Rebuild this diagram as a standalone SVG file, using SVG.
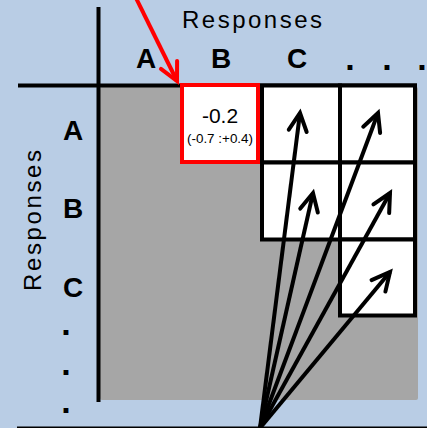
<svg xmlns="http://www.w3.org/2000/svg" width="427" height="428" viewBox="0 0 427 428">
<style>
.lbl{font-family:"Liberation Sans",Arial,sans-serif;font-weight:bold;font-size:28px;fill:#000;text-anchor:middle}
.ttl{font-family:"Liberation Sans",Arial,sans-serif;font-size:24px;fill:#000}
.dot{font-family:"Liberation Sans",Arial,sans-serif;font-weight:bold;font-size:34px;fill:#000;text-anchor:middle}
.cell{fill:#fff;stroke:#000;stroke-width:4}
.arr{stroke:#000;stroke-width:4;fill:none;marker-end:url(#ah)}
.axis{stroke:#000;stroke-width:4}
</style>
<defs>
<marker id="ah" markerUnits="userSpaceOnUse" markerWidth="30" markerHeight="30" viewBox="-22 -15 30 30" refX="0" refY="0" orient="auto">
<path d="M-18,-9 L0,0 L-18,9" fill="none" stroke="#000" stroke-width="4" stroke-linecap="round" stroke-linejoin="miter"/>
</marker>
<marker id="ahr" markerUnits="userSpaceOnUse" markerWidth="30" markerHeight="30" viewBox="-22 -15 30 30" refX="0" refY="0" orient="auto">
<path d="M-18,-9 L0,0 L-18,9" fill="none" stroke="#ff0000" stroke-width="4" stroke-linecap="round"/>
</marker>
</defs>
<rect x="0" y="0" width="427" height="428" fill="#b9cde5"/>
<g id="grid-area">
<rect x="100" y="87" width="318" height="313" rx="2" fill="#a6a6a6"/>
<line class="axis" x1="98.5" y1="7" x2="98.5" y2="402"/>
<line class="axis" x1="18" y1="85.5" x2="417" y2="85.5"/>
<line x1="17" y1="428" x2="427" y2="428" stroke="#000" stroke-width="3"/>
</g>
<g id="titles">
<text class="ttl" x="182" y="28" textLength="140" lengthAdjust="spacing">Responses</text>
<text class="ttl" transform="translate(41,291) rotate(-90)" x="0" y="0" textLength="141" lengthAdjust="spacing">Responses</text>
</g>
<g id="col-labels">
<text class="lbl" x="146" y="68">A</text>
<text class="lbl" x="221" y="68">B</text>
<text class="lbl" x="297" y="68">C</text>
<text class="dot" x="350 387 422" y="70">...</text>
</g>
<g id="row-labels">
<text class="lbl" x="73" y="140">A</text>
<text class="lbl" x="73" y="218">B</text>
<text class="lbl" x="73" y="297">C</text>
<text class="dot" x="66" y="335">.</text>
<text class="dot" x="66" y="375">.</text>
<text class="dot" x="66" y="413">.</text>
</g>
<g id="cells">
<rect class="cell" x="262" y="85.5" width="78" height="77"/>
<rect class="cell" x="340" y="85.5" width="75" height="77"/>
<rect class="cell" x="262" y="162.5" width="78" height="77"/>
<rect class="cell" x="340" y="162.5" width="75" height="77"/>
<rect class="cell" x="340" y="239.5" width="75" height="76"/>
</g>
<g id="cell-AB">
<rect x="182" y="85" width="76" height="77" fill="#fff" stroke="#ff0000" stroke-width="4"/>
<text x="220" y="123" font-family="'Liberation Sans',Arial,sans-serif" font-size="21" text-anchor="middle">-0.2</text>
<text x="220" y="143" font-family="'Liberation Sans',Arial,sans-serif" font-size="12" text-anchor="middle" textLength="66" lengthAdjust="spacingAndGlyphs">(-0.7 :+0.4)</text>
</g>
<g id="connectors">
<line class="arr" x1="260" y1="428" x2="300" y2="113"/>
<line class="arr" x1="260" y1="428" x2="378" y2="113"/>
<line class="arr" x1="260" y1="428" x2="313" y2="193"/>
<line class="arr" x1="260" y1="428" x2="390" y2="193"/>
<line class="arr" x1="260" y1="428" x2="390" y2="272"/>
<line x1="136" y1="-2" x2="177" y2="81" stroke="#ff0000" stroke-width="4" marker-end="url(#ahr)"/>
</g>
</svg>
